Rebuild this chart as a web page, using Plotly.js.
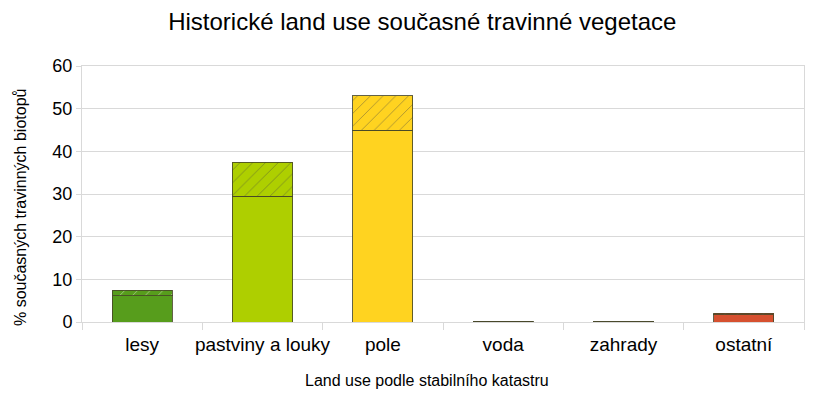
<!DOCTYPE html>
<html>
<head>
<meta charset="utf-8">
<script src="https://cdn.plot.ly/plotly-3.0.1.min.js"></script>
<style>html,body{margin:0;padding:0;background:#fff;}#chart{width:820px;height:398px;}</style>
</head>
<body>
<div id="chart"></div>
<script>
const categories = ["lesy", "pastviny a louky", "pole", "voda", "zahrady", "ostatní"];
const solidValues = [6.1, 29.5, 44.9, 0.2, 0.1, 1.7];
const hatchedValues = [1.4, 8.0, 8.1, 0.0, 0.0, 0.3];
const barColors = ["#579d1c", "#aecf00", "#ffd320", "#8a8a8a", "#b0b0b0", "#d6502f"];
const yTicks = [0, 10, 20, 30, 40, 50, 60];
const xTitle = "Land use podle stabilního katastru";
const yTitle = "% současných travinných biotopů";

const outline = "rgba(70,70,40,0.85)";
const traces = [
  {
    type: "bar", x: categories, y: solidValues,
    marker: { color: barColors, line: { color: outline, width: 1 } },
    width: 0.5, hoverinfo: "x+y"
  },
  {
    type: "bar", x: categories, y: hatchedValues,
    marker: {
      color: barColors,
      line: { color: outline, width: 1 },
      pattern: { shape: "/", fgcolor: "rgba(50,50,20,0.85)", size: 9, solidity: 0.09, fillmode: "overlay" }
    },
    width: 0.5, hoverinfo: "x+y"
  }
];

const layout = {
  width: 820, height: 398,
  margin: { l: 82, r: 16, t: 66, b: 76 },
  barmode: "stack",
  showlegend: false,
  paper_bgcolor: "#fff", plot_bgcolor: "#fff",
  font: { family: "Liberation Sans, Arial, sans-serif", color: "#000" },
  title: { text: "Historické land use současné travinné vegetace", font: { size: 24, color: "#000" }, x: 0.515, xanchor: "center", y: 0.945, yanchor: "middle" },
  xaxis: {
    type: "category", tickangle: 0,
    tickson: "boundaries", ticks: "outside", ticklen: 7, tickcolor: "#d9d9d9",
    ticklabelstandoff: 5,
    showgrid: false, showline: true, mirror: true, linecolor: "#d9d9d9", linewidth: 1,
    tickfont: { size: 19, color: "#000" }
  },
  yaxis: {
    range: [0, 60], tickvals: yTicks, ticktext: yTicks.map(String),
    ticks: "outside", ticklen: 5, tickcolor: "#d9d9d9",
    showgrid: true, gridcolor: "#d9d9d9", gridwidth: 1,
    zeroline: false, showline: true, mirror: true, linecolor: "#d9d9d9", linewidth: 1,
    tickfont: { size: 18, color: "#000" }
  },
  annotations: [
    { text: xTitle, xref: "paper", yref: "paper", x: 0.478, y: -0.23, xanchor: "center", yanchor: "middle", showarrow: false, font: { size: 16, color: "#000" } },
    { text: yTitle, xref: "paper", yref: "paper", x: -0.0859, y: 0.449, xanchor: "center", yanchor: "middle", textangle: -90, showarrow: false, font: { size: 16, color: "#000" } }
  ]
};

Plotly.newPlot("chart", traces, layout, { displayModeBar: false, staticPlot: true });
</script>
</body>
</html>
